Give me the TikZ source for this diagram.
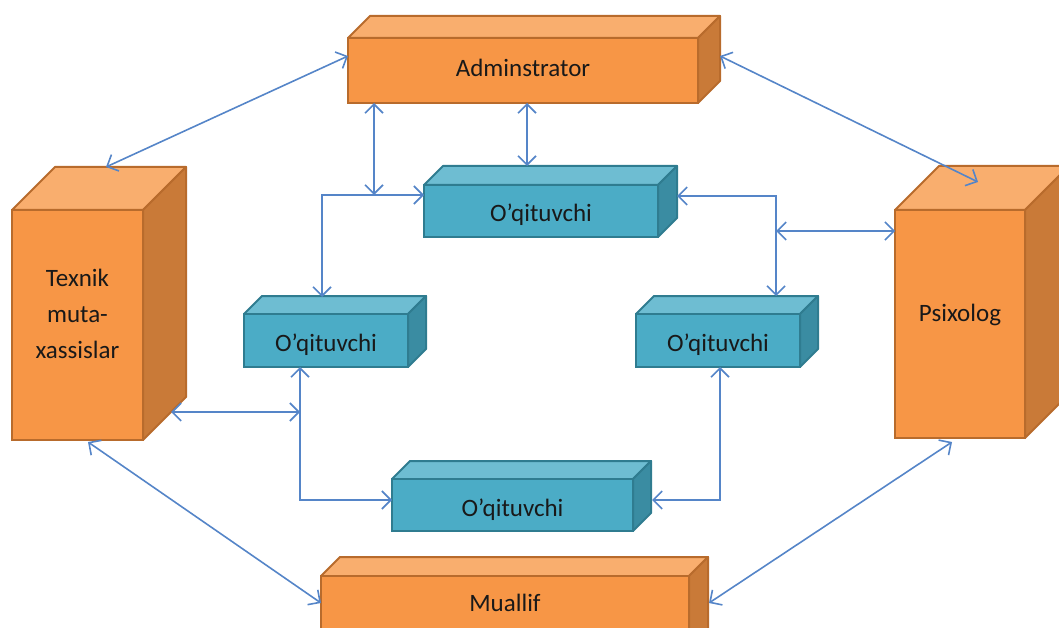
\documentclass[tikz,border=0pt]{standalone}
\usepackage{fontspec}
\setmainfont{Carlito}
\usetikzlibrary{arrows.meta,calc}
\definecolor{orfront}{HTML}{F79646}
\definecolor{ortop}{HTML}{F9AE6E}
\definecolor{orside}{HTML}{C97A38}
\definecolor{oredge}{HTML}{B86B2C}
\definecolor{tlfront}{HTML}{4BACC6}
\definecolor{tltop}{HTML}{6EBDD2}
\definecolor{tlside}{HTML}{3A8CA2}
\definecolor{tledge}{HTML}{2F7C90}
\definecolor{lineblue}{HTML}{5585C8}
\newcommand\boxfont{\fontsize{25}{36}\selectfont}
% #1 name, #2 x1, #3 y1, #4 x2, #5 y2, #6 depth, #7 colour family, #8 text, #9 text offset
\newcommand\boxcube[9]{%
  \filldraw[fill=#7top, draw=#7edge, line width=2pt, line join=round] (#2,#3) -- (#2+#6,#3-#6) -- (#4+#6,#3-#6) -- (#4,#3) -- cycle;
  \filldraw[fill=#7side, draw=#7edge, line width=2pt, line join=round] (#4,#3) -- (#4+#6,#3-#6) -- (#4+#6,#5-#6) -- (#4,#5) -- cycle;
  \node[draw=#7edge, fill=#7front, line width=2pt, inner sep=0pt, outer sep=0pt,
        minimum width={(#4-#2)*1pt}, minimum height={(#5-#3)*1pt}] (#1) at ({(#2+#4)/2},{(#3+#5)/2}) {};%
  \node[font=\boxfont, align=center, text=black!90] (#1-text) at ($(#1.center)+(0,#9)$) {#8};%
}
\tikzset{
  conn/.style={draw=lineblue, line width=1.6pt,
    {Straight Barb[length=9pt,width=18pt]}-{Straight Barb[length=9pt,width=18pt]}}
}
\begin{document}
\begin{tikzpicture}[x=1pt,y=-1pt]
\path[use as bounding box] (0,0) rectangle (1059,628);
\clip (0,0) rectangle (1059,628);
% boxes
\boxcube{adm}{348}{38}{698}{103}{22}{or}{Adminstrator}{-3}
\boxcube{tex}{12}{210}{143}{440}{43}{or}{Texnik\\muta-\\xassislar}{-11}
\boxcube{psi}{895}{210}{1025}{438}{44}{or}{Psixolog}{-9}
\boxcube{mua}{321}{576}{689}{650}{19}{or}{Muallif}{-10}
\boxcube{tT}{424}{185}{658}{237}{19}{tl}{O’qituvchi}{4}
\boxcube{tL}{244}{314}{408}{367}{18}{tl}{O’qituvchi}{4}
\boxcube{tR}{636}{314}{800}{367}{18}{tl}{O’qituvchi}{4}
\boxcube{tB}{392}{479}{633}{531}{18}{tl}{O’qituvchi}{5}
% junction coordinates
\coordinate (j1) at ($(tT.north west)+(-50,10)$);
\coordinate (j2) at ($(tR.north west)+(140,-83)$);
\coordinate (j3) at ($(tL.south west)+(56,45)$);
% connectors
\draw[conn] ($(adm.west)+(0,-14.5)$) -- ($(tex.north west)+(94,-43)$);
\draw[conn] ($(adm.east)+(22,-14.5)$) -- ($(psi.north west)+(83,-28)$);
\draw[conn] ($(adm.south west)+(26,0)$) -- (j1);
\draw[conn] ($(adm.south west)+(179,0)$) -- ($(tT.north west)+(103,-19)$);
\draw[conn] ($(tT.north west)+(0,10)$) -| ($(tL.north west)+(78,-17)$);
\draw[conn] ($(tT.north east)+(19,11)$) -| ($(tR.north west)+(140,-18)$);
\draw[conn] ($(psi.north west)+(0,21)$) -- (j2);
\draw[conn] ($(tL.south west)+(56,0)$) |- ($(tB.west)+(0,-5)$);
\draw[conn] ($(tex.south east)+(28,-28)$) -- (j3);
\draw[conn] ($(tR.south west)+(84,0)$) |- ($(tB.east)+(19,-5)$);
\draw[conn] ($(tex.south west)+(76,2)$) -- ($(mua.north west)+(0,27)$);
\draw[conn] ($(psi.south west)+(57,4)$) -- ($(mua.north east)+(20,27)$);
\end{tikzpicture}
\end{document}
